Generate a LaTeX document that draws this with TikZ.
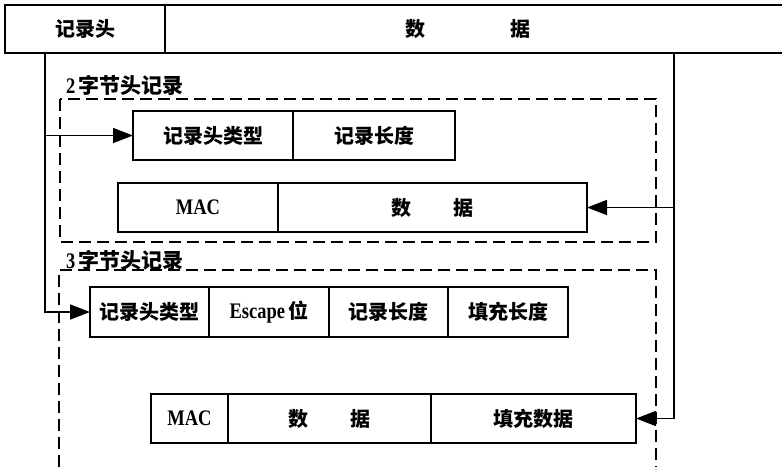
\documentclass[tikz,border=0pt]{standalone}
\usepackage{fontspec}
\usepackage{graphicx}
\setmainfont{Liberation Serif}
\newfontfamily\cjk{Noto Sans CJK SC}
\newfontfamily\latf{Liberation Serif}
\usetikzlibrary{arrows.meta}
\newcommand{\lt}[1]{\scalebox{1}[1.2]{\latf\bfseries\fontsize{18.5}{20}\selectfont #1}}
\begin{document}
\begin{tikzpicture}[x=1pt,y=-1pt,
  every node/.style={font=\cjk\bfseries\fontsize{20}{22}\selectfont, inner sep=0pt, outer sep=0pt},
  fld/.style={draw, line width=1.7pt, minimum height=#1},
  fld/.default=49pt,
  ln/.style={line width=1.7pt},
  dsh/.style={line width=1.7pt, dash pattern=on 12pt off 6pt},
  arr/.style={line width=1.7pt, -{Triangle[length=20pt,width=15pt]}},
  lbl/.style={anchor=west, font=\cjk\bfseries\fontsize{21}{23}\selectfont}]
\useasboundingbox (0,0) rectangle (782,467);
% top bar
\node[fld=48pt, minimum width=160pt] (hdr) at (85,29) {记录头};
\node (dat) at (467.5,29) {数\hspace{85pt}据};
\draw[ln] (hdr.north east) -- (782,5);
\draw[ln] (hdr.south east) -- (782,53);
\coordinate (L0) at (45,53);
\coordinate (R0) at (674,53);
% 2-byte header record
\node[lbl] (lab2) at (66,85) {\lt{2}\,字节头记录};
\draw[dsh] (60,99) rectangle (656,242);
\node[fld, minimum width=160pt] (t2a) at (213,135.5) {记录头类型};
\node[fld, minimum width=162pt] (t2b) at (374,135.5) {记录长度};
\node[fld, minimum width=160pt] (m2a) at (198,207.5) {\lt{MAC}};
\node[fld, minimum width=309pt] (m2b) at (432.5,207.5) {数\hspace{42pt}据};
% 3-byte header record
\node[lbl] (lab3) at (66,260) {\lt{3}\,字节头记录};
\draw[dsh] (59,467) -- (59,270) -- (656,270) -- (656,467);
\node[fld=50pt, minimum width=119pt] (t3a) at (149.5,312) {记录头类型};
\node[fld=50pt, minimum width=120pt] (t3b) at (269,312) {\lt{Escape}\,位};
\node[fld=50pt, minimum width=119pt] (t3c) at (388.5,312) {记录长度};
\node[fld=50pt, minimum width=120pt] (t3d) at (508,312) {填充长度};
\node[fld, minimum width=77pt] (m3a) at (189.5,418.5) {\lt{MAC}};
\node[fld, minimum width=203pt] (m3b) at (329.5,418.5) {数\hspace{42pt}据};
\node[fld, minimum width=205pt] (m3c) at (533.5,418.5) {填充数据};
% connectors
\draw[arr] (L0) |- (t2a.west);
\draw[arr] (L0) |- (t3a.west);
\draw[arr] (R0) |- (m2b.east);
\draw[arr] (R0) |- (m3c.east);
\end{tikzpicture}
\end{document}
